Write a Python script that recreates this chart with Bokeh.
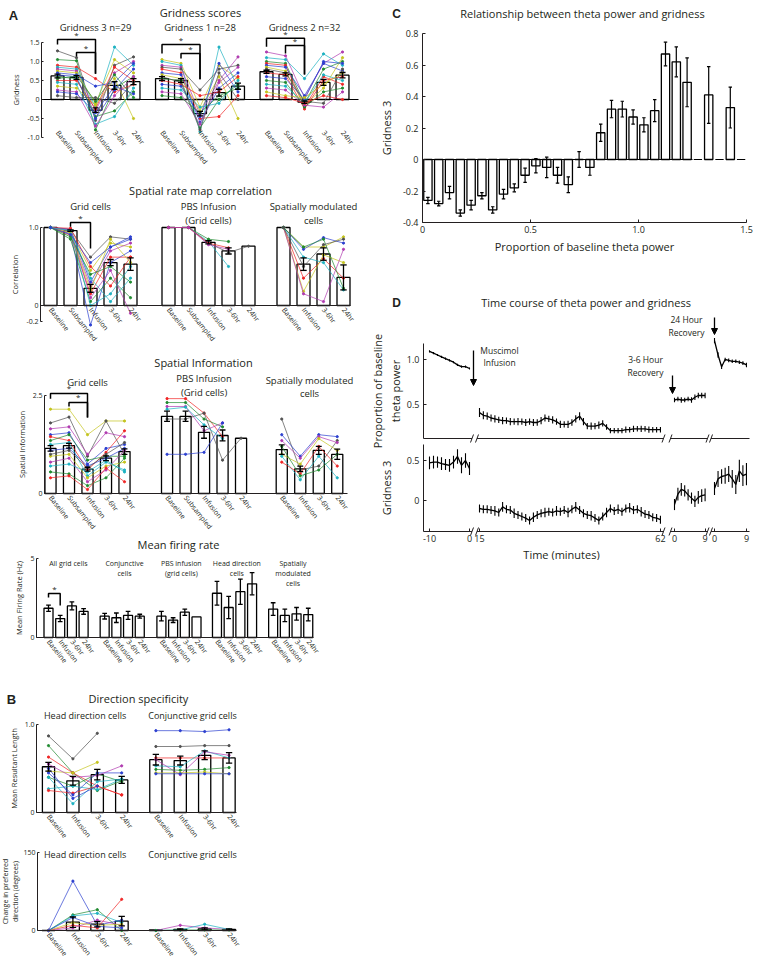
from bokeh.plotting import figure
from bokeh.models import LinearAxis, FixedTicker, Range1d, Arrow, NormalHead, Spacer
from bokeh.layouts import column, row
from bokeh.embed import file_html
from bokeh.resources import INLINE
from bokeh.core.properties import value

NAN = float("nan")

# ============================ DATA ============================
# ---- A: Gridness scores ----
grid_cats = ["Baseline", "Subsampled", "Infusion", "3-6hr", "24hr"]
grid_titles = ["Gridness 3 n=29", "Gridness 1 n=28", "Gridness 2 n=32"]
g3_mean = [0.62, 0.58, -0.28, 0.37, 0.47]
g3_err = [0.05, 0.05, 0.06, 0.10, 0.08]
g1_mean = [0.55, 0.50, -0.37, 0.18, 0.35]
g1_err = [0.05, 0.05, 0.06, 0.09, 0.08]
g2_mean = [0.73, 0.66, -0.07, 0.45, 0.64]
g2_err = [0.04, 0.04, 0.03, 0.08, 0.07]
g3_cells = [
    [1.28, 1.10, -0.55, 0.90, 1.12], [1.05, 1.02, -0.80, 0.30, 0.60],
    [0.90, 0.85, 0.55, 0.20, 0.40], [0.85, 0.80, -0.20, 1.38, 0.90],
    [0.80, 0.75, -0.30, 0.70, 1.00], [0.75, 0.70, -0.10, 1.05, 0.70],
    [0.70, 0.65, 0.35, 0.45, 0.95], [0.60, 0.55, -0.45, -0.30, 0.20],
    [0.50, 0.50, -0.25, 0.85, 0.50], [0.45, 0.40, -0.65, -0.45, 0.30],
    [0.35, 0.30, -0.15, 0.55, -0.50], [0.25, 0.20, -0.70, 0.10, 0.60],
    [0.20, 0.15, -0.35, 0.35, 0.15], [0.10, 0.05, 0.05, -0.10, 0.45],
    [0.65, 0.60, -0.50, 0.25, 0.80], [0.55, 0.62, -0.05, 0.65, 0.05],
]
g3_colors = ["k", "g", "r", "c", "m", "y", "b", "g", "r", "c", "y", "m", "b", "k", "b", "g"]
g1_cells = [
    [1.05, 0.95, -0.20, 0.90, 0.55], [1.00, 0.90, -0.85, 1.38, 0.30],
    [0.90, 0.85, -0.40, 0.50, 1.12], [0.85, 0.80, 0.25, 0.80, 0.90],
    [0.80, 0.70, -0.50, -0.45, 0.10], [0.70, 0.65, -0.60, 0.30, 0.70],
    [0.65, 0.55, -0.30, 0.60, -0.50], [0.55, 0.50, -0.75, 0.00, 0.40],
    [0.50, 0.40, 0.10, 0.20, 0.60], [0.40, 0.35, -0.45, 0.95, 0.20],
    [0.30, 0.25, -0.20, -0.10, 0.50], [0.20, 0.15, -0.65, 0.45, 0.85],
    [0.10, 0.05, -0.35, 0.10, 0.30], [0.60, 0.45, -0.80, 0.70, 0.00],
]
g1_colors = ["y", "c", "m", "k", "r", "b", "y", "g", "r", "b", "c", "m", "g", "k"]
g2_cells = [
    [1.25, 1.15, 0.05, 0.95, 1.25], [1.10, 1.05, 0.55, 1.20, 0.90],
    [1.00, 0.95, -0.10, 0.80, 1.00], [0.95, 0.90, -0.20, 0.60, 0.40],
    [0.90, 0.85, 0.10, 0.95, 0.75], [0.85, 0.75, -0.15, 0.30, 1.10],
    [0.80, 0.70, -0.05, -0.10, 0.80], [0.70, 0.65, -0.25, 0.50, 0.60],
    [0.60, 0.55, 0.00, 1.00, 0.95], [0.50, 0.45, -0.20, 0.20, 0.30],
    [0.40, 0.35, -0.10, 0.65, 0.50], [0.30, 0.25, -0.15, -0.20, 0.20],
    [0.20, 0.10, 0.05, 0.40, 0.70], [0.10, 0.05, -0.10, 0.10, 0.00],
]
g2_colors = ["m", "c", "g", "r", "b", "y", "k", "r", "b", "g", "c", "m", "y", "r"]
# significance brackets: (from, to, top, left end, right end)
g3_sig = [(0, 2, 1.58, 1.45, 0.68), (1, 2, 1.24, 1.13, 0.68)]
g1_sig = [(0, 2, 1.45, 1.21, 0.53), (1, 2, 1.21, 1.08, 0.53)]
g2_sig = [(0, 2, 1.61, 1.39, 0.66), (1, 2, 1.42, 1.21, 0.66)]

# ---- Spatial rate map correlation ----
sm_cats = ["Baseline", "Infusion", "3-6hr", "24hr"]
cor_titles = [["Grid cells"], ["PBS Infusion", "(Grid cells)"], ["Spatially modulated", "cells"]]
cor_grid_mean = [1.0, 0.96, 0.22, 0.55, 0.53]
cor_grid_err = [0.0, 0.01, 0.05, 0.04, 0.08]
cor_pbs_mean = [1.0, 1.0, 0.81, 0.70, 0.76]
cor_pbs_err = [0.0, 0.0, 0.02, 0.04, 0.0]
cor_sm_mean = [1.0, 0.53, 0.66, 0.36]
cor_sm_err = [0.0, 0.08, 0.08, 0.16]
cor_grid_cells = [
    [1.0, 0.97, 0.62, 0.88, 0.85], [1.0, 0.95, 0.45, 0.80, 0.75],
    [1.0, 0.98, 0.30, 0.75, 0.88], [1.0, 0.92, -0.25, 0.55, 0.70],
    [1.0, 0.90, 0.15, 0.62, 0.62], [1.0, 0.85, 0.05, 0.35, 0.10],
    [1.0, 0.96, 0.35, 0.05, 0.35], [1.0, 0.94, 0.25, 0.70, 0.80],
    [1.0, 0.97, 0.10, 0.45, -0.10], [1.0, 0.99, 0.50, 0.25, 0.62],
    [1.0, 0.93, 0.20, 0.85, 0.55], [1.0, 0.88, 0.40, 0.50, 0.30],
    [1.0, 0.96, 0.00, 0.15, 0.50], [1.0, 0.91, 0.55, 0.75, 0.85],
]
cor_grid_colors = ["k", "y", "b", "b", "r", "g", "c", "m", "m", "r", "y", "g", "c", "b"]
cor_pbs_cells = [
    [1.0, 1.0, 0.80, 0.68, 0.76], [1.0, 1.0, 0.85, 0.82, NAN],
    [1.0, 1.0, 0.82, 0.50, NAN], [1.0, 1.0, 0.80, 0.74, NAN],
    [1.0, 1.0, 0.78, 0.72, NAN],
]
cor_pbs_colors = ["k", "g", "c", "r", "m"]
cor_sm_cells = [
    [1.0, 0.75, 0.75, 0.88], [1.0, 0.72, 0.87, 0.80], [1.0, 0.35, 0.60, 0.35],
    [1.0, 0.18, 0.65, 0.55], [1.0, 0.15, 0.05, 0.72], [1.0, 0.62, 0.55, 0.20],
    [1.0, 0.75, 0.85, 0.22], [1.0, 0.50, 0.78, 0.85],
]
cor_sm_colors = ["y", "b", "r", "y", "m", "c", "g", "k"]
cor_sig = [(1, 2, 1.064, 1.01, 0.73)]

# ---- Spatial information ----
si_grid_mean = [1.15, 1.22, 0.62, 0.90, 1.07]
si_grid_err = [0.07, 0.06, 0.05, 0.06, 0.07]
si_pbs_mean = [1.97, 1.97, 1.56, 1.48, 1.41]
si_pbs_err = [0.13, 0.13, 0.15, 0.14, 0.0]
si_sm_mean = [1.12, 0.63, 1.10, 1.00]
si_sm_err = [0.12, 0.07, 0.10, 0.13]
si_grid_cells = [
    [2.15, 2.15, 1.50, 1.85, 1.85], [1.80, 1.95, 0.95, 1.85, 1.00],
    [1.65, 1.70, 1.00, 1.55, 1.45], [1.50, 1.55, 0.75, 1.15, 1.25],
    [1.45, 1.35, 0.60, 1.05, 1.60], [1.35, 1.50, 0.85, 0.95, 0.95],
    [1.25, 1.30, 0.45, 0.80, 0.60], [1.10, 1.15, 0.70, 0.90, 1.15],
    [0.95, 1.00, 0.40, 0.70, 0.80], [0.80, 0.90, 0.30, 0.60, 1.10],
    [0.70, 0.75, 0.55, 0.85, 0.55], [0.55, 0.50, 0.20, 0.40, 0.90],
    [0.40, 0.45, 0.10, 0.65, 0.30], [1.00, 1.10, 0.65, 1.00, 1.30],
]
si_grid_colors = ["y", "k", "m", "b", "r", "g", "c", "b", "y", "m", "c", "g", "r", "k"]
si_pbs_cells = [
    [2.42, 2.42, 2.05, 1.45, NAN], [2.32, 2.32, 1.90, 1.70, NAN],
    [2.22, 2.22, 1.60, 1.80, NAN], [1.90, 1.90, 2.05, 0.85, 1.41],
    [1.00, 1.00, 1.05, 1.80, NAN], [2.15, 2.20, 1.75, 1.40, NAN],
]
si_pbs_colors = ["r", "g", "m", "k", "b", "c"]
si_sm_cells = [
    [1.90, 0.60, 0.70, 1.35], [1.50, 0.95, 1.50, 1.45], [1.35, 0.90, 1.45, 1.30],
    [1.00, 0.75, 1.40, 1.10], [0.95, 0.35, 0.95, 0.40], [0.80, 0.50, 1.20, 0.70],
    [1.20, 0.45, 0.60, 1.00],
]
si_sm_colors = ["k", "b", "m", "y", "c", "r", "g"]
si_sig = [(0, 2, 2.55, 2.42, 1.94), (1, 2, 2.32, 2.22, 1.94)]

# ---- Mean firing rate ----
fr_titles = [["All grid cells"], ["Conjunctive", "cells"], ["PBS infusion", "(grid cells)"],
             ["Head direction", "cells"], ["Spatially", "modulated", "cells"]]
fr_grid_mean = [1.85, 1.20, 2.00, 1.65]
fr_grid_err = [0.20, 0.20, 0.25, 0.18]
fr_conj_mean = [1.35, 1.25, 1.40, 1.35]
fr_conj_err = [0.18, 0.30, 0.25, 0.12]
fr_pbs_mean = [1.35, 1.10, 1.60, 1.30]
fr_pbs_err = [0.30, 0.15, 0.20, 0.0]
fr_hd_mean = [2.80, 1.90, 2.90, 3.40]
fr_hd_err = [0.75, 0.70, 0.80, 0.70]
fr_sm_mean = [1.80, 1.40, 1.50, 1.45]
fr_sm_err = [0.40, 0.40, 0.40, 0.40]
fr_sig = [(0, 1, 2.78, 2.53, 2.03)]

# ---- B: Direction specificity ----
ds_titles = ["Head direction cells", "Conjunctive grid cells"]
ds_hd_mean = [0.52, 0.36, 0.43, 0.37]
ds_hd_err = [0.05, 0.05, 0.06, 0.04]
ds_cj_mean = [0.60, 0.59, 0.65, 0.62]
ds_cj_err = [0.06, 0.05, 0.05, 0.06]
ds_hd_cells = [
    [0.87, 0.61, 0.90, NAN], [0.76, 0.45, 0.25, 0.36], [0.63, 0.45, 0.30, 0.20],
    [0.47, 0.45, 0.57, NAN], [0.40, 0.30, 0.44, 0.35], [0.40, 0.10, 0.35, 0.38],
    [0.27, 0.30, 0.26, 0.38], [0.25, 0.22, 0.30, 0.20], [0.45, 0.20, 0.45, 0.45],
    [0.55, 0.40, 0.42, 0.53], [0.50, 0.16, 0.30, NAN],
]
ds_hd_colors = ["k", "g", "r", "y", "g", "c", "c", "r", "b", "m", "b"]
ds_cj_cells = [
    [0.93, 0.93, 0.92, 0.94], [0.75, 0.75, 0.76, 0.76], [0.62, 0.62, 0.62, 0.62],
    [0.53, 0.52, 0.70, 0.62], [0.60, 0.43, 0.69, 0.65], [0.49, 0.48, 0.49, 0.51],
    [0.45, 0.45, 0.46, 0.44], [0.44, 0.44, 0.44, 0.44],
]
ds_cj_colors = ["b", "k", "r", "c", "m", "g", "y", "b"]
cp_hd_mean = [0.0, 16.0, 12.0, 18.0]
cp_hd_err = [0.0, 10.0, 5.0, 9.0]
cp_cj_mean = [1.0, 2.0, 3.0, 2.0]
cp_cj_err = [0.0, 1.0, 2.0, 1.0]
cp_hd_cells = [
    [0, 95, 10, 20], [0, 30, 40, 0], [0, 28, 33, 15], [0, 10, 5, 60],
    [0, 5, 20, 10], [0, 15, 10, 12], [0, 25, 8, 5],
]
cp_hd_colors = ["b", "g", "c", "r", "m", "y", "b"]
cp_cj_cells = [[0, 10, 5, 2], [0, 1, 12, 2], [0, 1, 1, 1]]
cp_cj_colors = ["m", "c", "g"]

# ---- C: theta power vs gridness ----
c_x = [0.025, 0.075, 0.125, 0.175, 0.225, 0.275, 0.325, 0.375, 0.425, 0.475,
       0.525, 0.575, 0.625, 0.675, 0.725, 0.775, 0.825, 0.875, 0.925, 0.975,
       1.025, 1.075, 1.125, 1.175, 1.225, 1.275, 1.325, 1.375, 1.425, 1.475]
c_mean = [-0.26, -0.28, -0.21, -0.34, -0.29, -0.23, -0.32, -0.22, -0.18, -0.10,
          -0.04, -0.05, -0.10, -0.16, 0.00, -0.05, 0.17, 0.32, 0.32, 0.27,
          0.22, 0.31, 0.67, 0.62, 0.49, NAN, 0.41, NAN, 0.33, NAN]
c_err = [0.02, 0.015, 0.04, 0.02, 0.03, 0.02, 0.02, 0.03, 0.025, 0.045,
         0.045, 0.065, 0.05, 0.05, 0.05, 0.05, 0.055, 0.055, 0.05, 0.045,
         0.045, 0.07, 0.075, 0.095, 0.155, NAN, 0.18, NAN, 0.13, NAN]

# ---- D: time course ----
t_base = [-10, -9, -8, -7, -6, -5, -4, -3, -2, -1, 0]
t_inf = list(range(15, 63))
t_rec3 = [0, 1, 2, 3, 4, 5, 6, 7, 8, 9]
t_rec24 = [0, 1, 2, 3, 4, 5, 6, 7, 8, 9]
theta_base = [1.09, 1.07, 1.05, 1.03, 1.01, 0.99, 0.97, 0.94, 0.92, 0.92, 0.90]
theta_base_err = [0.012, 0.012, 0.011, 0.012, 0.013, 0.012, 0.011, 0.012, 0.012, 0.013, 0.012]
theta_inf = [0.41, 0.38, 0.37, 0.35, 0.34, 0.33, 0.32, 0.32, 0.31, 0.31, 0.31, 0.31,
             0.30, 0.31, 0.30, 0.30, 0.32, 0.35, 0.34, 0.33, 0.31, 0.28, 0.28, 0.28,
             0.30, 0.34, 0.37, 0.31, 0.26, 0.26, 0.26, 0.27, 0.29, 0.25, 0.21, 0.21,
             0.21, 0.21, 0.22, 0.22, 0.23, 0.23, 0.23, 0.23, 0.22, 0.22, 0.22, 0.22]
theta_inf_err = [0.05, 0.045, 0.04, 0.04, 0.04, 0.035, 0.04, 0.035, 0.04, 0.035, 0.04, 0.035,
                 0.04, 0.035, 0.04, 0.035, 0.04, 0.04, 0.035, 0.04, 0.035, 0.04, 0.035, 0.04,
                 0.035, 0.04, 0.045, 0.04, 0.035, 0.04, 0.035, 0.04, 0.035, 0.03, 0.03, 0.03,
                 0.03, 0.03, 0.035, 0.03, 0.035, 0.03, 0.035, 0.03, 0.035, 0.03, 0.03, 0.03]
theta_rec3 = [0.55, 0.56, 0.55, 0.55, 0.56, 0.55, 0.58, 0.60, 0.60, 0.60]
theta_rec3_err = [0.025, 0.025, 0.03, 0.025, 0.025, 0.03, 0.03, 0.03, 0.03, 0.03]
theta_rec24 = [1.21, 1.05, 0.92, 1.00, 0.99, 0.98, 0.98, 0.97, 0.96, 0.94]
theta_rec24_err = [0.03, 0.03, 0.025, 0.02, 0.02, 0.02, 0.02, 0.02, 0.02, 0.025]
grid_base = [0.47, 0.48, 0.48, 0.46, 0.45, 0.44, 0.48, 0.55, 0.44, 0.50, 0.40]
grid_base_err = [0.08, 0.08, 0.07, 0.08, 0.07, 0.08, 0.08, 0.09, 0.10, 0.09, 0.08]
grid_inf = [-0.10, -0.11, -0.11, -0.12, -0.13, -0.15, -0.08, -0.11, -0.12, -0.16, -0.18, -0.20,
            -0.22, -0.25, -0.21, -0.18, -0.16, -0.15, -0.14, -0.15, -0.13, -0.14, -0.12, -0.15,
            -0.11, -0.08, -0.12, -0.16, -0.18, -0.19, -0.22, -0.25, -0.20, -0.15, -0.10, -0.13,
            -0.11, -0.14, -0.10, -0.09, -0.12, -0.11, -0.14, -0.17, -0.18, -0.21, -0.22, -0.24]
grid_inf_err = [0.05, 0.05, 0.05, 0.05, 0.06, 0.05, 0.06, 0.05, 0.05, 0.06, 0.05, 0.05,
                0.05, 0.05, 0.06, 0.05, 0.05, 0.06, 0.05, 0.05, 0.06, 0.05, 0.05, 0.06,
                0.05, 0.06, 0.05, 0.05, 0.05, 0.06, 0.05, 0.05, 0.05, 0.06, 0.05, 0.05,
                0.06, 0.05, 0.05, 0.06, 0.05, 0.05, 0.06, 0.05, 0.05, 0.05, 0.05, 0.05]
grid_rec3 = [-0.05, 0.08, 0.14, 0.12, 0.07, 0.03, -0.01, 0.04, 0.06, 0.07]
grid_rec3_err = [0.07, 0.08, 0.08, 0.07, 0.07, 0.07, 0.07, 0.08, 0.08, 0.08]
grid_rec24 = [0.15, 0.27, 0.30, 0.31, 0.33, 0.27, 0.20, 0.37, 0.31, 0.33]
grid_rec24_err = [0.08, 0.10, 0.09, 0.10, 0.10, 0.11, 0.12, 0.14, 0.13, 0.14]
d_tick_labels = ["-10", "0", "15", "62", "0", "9", "0", "9"]

# ============================ STYLE / LAYOUT ============================
FONT = "Open Sans"
BOLD = "Liberation Sans"
TXT = "#231f20"
COLS = {"b": "#2b3fd0", "g": "#1f8a2f", "r": "#f02424", "c": "#1cb2c2",
        "m": "#b03ab0", "y": "#c4c41c", "k": "#505050"}
LW_BAR = 1.3
CAT_ANGLE = -0.9
SPLIT = 366          # x where the right column starts
LW_LEFT = SPLIT
LW_RIGHT = 756 - SPLIT


def mkpanel(fx, fy, w, h, xpx0, xs, ypx0, ys):
    X = lambda px: (px - xpx0) / xs
    Y = lambda py: (ypx0 - py) / ys
    p = figure(width=w, height=h, x_range=Range1d(X(fx), X(fx + w)),
               y_range=Range1d(Y(fy + h), Y(fy)), x_axis_type=None, y_axis_type=None,
               toolbar_location=None, output_backend="svg", min_border=0,
               min_border_left=0, min_border_right=0, min_border_top=0, min_border_bottom=0,
               outline_line_color=None, border_fill_color="white",
               background_fill_color="white")
    return p, X, Y


def txt(p, x, y, s, size, align="center", baseline="middle", bold=False, font=FONT, angle=0):
    p.text(x=[x], y=[y], text=[s], text_font=value(font), text_font_size=size,
           text_align=align, text_baseline=baseline, angle=angle,
           text_font_style="bold" if bold else "normal", text_color=TXT)


def lines_txt(p, x, ys, texts, size):
    for y, s in zip(ys, texts):
        txt(p, x, y, s, size)


def yaxis(p, loc, ticks, labels, bounds, label, fs="7px", lfs="7.5px", standoff=2, lstand=3,
          tick_in=2, **kw):
    ax = LinearAxis(fixed_location=loc, bounds=bounds, ticker=FixedTicker(ticks=ticks),
                    major_label_overrides={float(t): l for t, l in zip(ticks, labels)},
                    axis_label=label, axis_label_text_font=FONT, axis_label_text_font_size=lfs,
                    axis_label_text_font_style="normal", axis_label_standoff=lstand,
                    axis_label_text_color=TXT,
                    major_label_text_font=FONT, major_label_text_font_size=fs,
                    major_label_text_color=TXT, major_label_standoff=standoff,
                    major_tick_in=tick_in, major_tick_out=0, minor_tick_in=0, minor_tick_out=0,
                    axis_line_color=TXT, major_tick_line_color=TXT, axis_line_width=1, **kw)
    p.add_layout(ax, "left")
    return ax


def cataxis(p, ticks, labels, loc, bounds=None, line=True, fs="7px", standoff=2):
    ax = LinearAxis(fixed_location=loc, ticker=FixedTicker(ticks=ticks),
                    major_label_overrides={float(t): l for t, l in zip(ticks, labels)},
                    major_label_orientation=CAT_ANGLE, major_tick_in=0, major_tick_out=0,
                    minor_tick_in=0, minor_tick_out=0, major_label_standoff=standoff,
                    major_label_text_font=FONT, major_label_text_font_size=fs,
                    major_label_text_color=TXT,
                    axis_line_color=TXT if line else None, axis_line_width=1)
    if bounds is not None:
        ax.bounds = bounds
    p.add_layout(ax, "below")
    return ax


def bars(p, xs, means, bw):
    p.vbar(x=xs, top=means, bottom=0, width=bw, fill_color="white",
           line_color="black", line_width=LW_BAR)


def errbars(p, xs, means, errs, cap, lw=1.3):
    ex = [x for x, e in zip(xs, errs) if e == e and e > 0]
    lo = [m - e for m, e in zip(means, errs) if e == e and e > 0]
    hi = [m + e for m, e in zip(means, errs) if e == e and e > 0]
    p.segment(x0=ex, y0=lo, x1=ex, y1=hi, line_color="black", line_width=lw)
    p.segment(x0=[x - cap for x in ex], y0=hi, x1=[x + cap for x in ex], y1=hi,
              line_color="black", line_width=lw)
    p.segment(x0=[x - cap for x in ex], y0=lo, x1=[x + cap for x in ex], y1=lo,
              line_color="black", line_width=lw)


def cells(p, xs, rows, colors, size=2.2):
    for ys, c in zip(rows, colors):
        col = COLS[c]
        p.line(xs, ys, line_color=col, line_width=0.7)
        p.scatter(xs, ys, size=size, color=col, marker="circle")


def bracket(p, xs, sig, star_dy):
    for a, b, yh, yl, yr in sig:
        p.line([xs[a], xs[a], xs[b], xs[b]], [yl, yh, yh, yr], line_color="black", line_width=1.5)
        txt(p, (xs[a] + xs[b]) / 2, yh + star_dy, "*", "8px", baseline="middle")


# ---------------- Panel A1: Gridness ----------------
p1, X1, Y1 = mkpanel(0, 0, LW_LEFT, 168, 57, 19, 99, 38)
GR_OFF = [0, 5.5, 11]
p1.line([X1(41), X1(358)], [0, 0], line_color="black", line_width=1)
all_x, all_l = [], []
for off, mean, err, cl, cc, sig, title in zip(
        GR_OFF, [g3_mean, g1_mean, g2_mean], [g3_err, g1_err, g2_err],
        [g3_cells, g1_cells, g2_cells], [g3_colors, g1_colors, g2_colors],
        [g3_sig, g1_sig, g2_sig], grid_titles):
    xs = [off + i for i in range(len(grid_cats))]
    bars(p1, xs, mean, 0.68)
    cells(p1, xs, cl, cc)
    errbars(p1, xs, mean, err, 0.16)
    bracket(p1, xs, sig, 0.12)
    txt(p1, off + 2, Y1(27), title, "9.5px")
    all_x += xs
    all_l += grid_cats
txt(p1, X1(200), Y1(12), "Gridness scores", "11px")
txt(p1, X1(13), Y1(15), "A", "13px", bold=True, font=BOLD)
yaxis(p1, X1(41), [-1, -0.5, 0, 0.5, 1, 1.5], ["-1.0", "-0.5", "0", "0.5", "1.0", "1.5"],
      (-1, 1.5), "Gridness")
cataxis(p1, all_x, all_l, Y1(130), line=False, standoff=1)

# ---------------- Panel A2: Correlation ----------------
p2, X2, Y2 = mkpanel(0, 168, LW_LEFT, 182, 50, 20, 305, 78)
CO_OFF = [0, 5.9, 11.65]
all_x, all_l = [], []
groups = [(grid_cats, cor_grid_mean, cor_grid_err, cor_grid_cells, cor_grid_colors),
          (grid_cats, cor_pbs_mean, cor_pbs_err, cor_pbs_cells, cor_pbs_colors),
          (sm_cats, cor_sm_mean, cor_sm_err, cor_sm_cells, cor_sm_colors)]
for gi, (off, (cats, mean, err, cl, cc), title) in enumerate(zip(CO_OFF, groups, cor_titles)):
    xs = [off + i for i in range(len(cats))]
    bars(p2, xs, mean, 0.65)
    cells(p2, xs, cl, cc)
    errbars(p2, xs, mean, err, 0.16)
    if gi == 0:
        bracket(p2, xs, cor_sig, 0.07)
    lines_txt(p2, off + (len(cats) - 1) / 2, [Y2(206), Y2(220)], title, "9.5px")
    all_x += xs
    all_l += cats
txt(p2, X2(200), Y2(190), "Spatial rate map correlation", "11px")
yaxis(p2, X2(40), [-0.2, 0, 1.0], ["-0.2", "0", "1.0"], (-0.2, 1.0), "Correlation")
cataxis(p2, all_x, all_l, 0, bounds=(X2(40), X2(350)), standoff=3)

# ---------------- Panel A3: Spatial information ----------------
p3, X3, Y3 = mkpanel(0, 350, LW_LEFT, 184, 50, 18.5, 493, 39.2)
SI_OFF = [0, 6.3, 12.5]
all_x, all_l = [], []
groups = [(grid_cats, si_grid_mean, si_grid_err, si_grid_cells, si_grid_colors),
          (grid_cats, si_pbs_mean, si_pbs_err, si_pbs_cells, si_pbs_colors),
          (sm_cats, si_sm_mean, si_sm_err, si_sm_cells, si_sm_colors)]
sub_y = [[Y3(382)], [Y3(378), Y3(392)], [Y3(380), Y3(393)]]
for gi, (off, (cats, mean, err, cl, cc), title, sy) in enumerate(zip(SI_OFF, groups, cor_titles, sub_y)):
    xs = [off + i for i in range(len(cats))]
    bars(p3, xs, mean, 0.6)
    cells(p3, xs, cl, cc)
    errbars(p3, xs, mean, err, 0.16)
    if gi == 0:
        bracket(p3, xs, si_sig, 0.15)
    lines_txt(p3, off + (len(cats) - 1) / 2, sy, title, "9.5px")
    all_x += xs
    all_l += cats
txt(p3, X3(203), Y3(362), "Spatial Information", "11px")
yaxis(p3, X3(44), [0, 2.5], ["0", "2.5"], (0, 2.5), "Spatial Information")
cataxis(p3, all_x, all_l, 0, bounds=(X3(44), X3(347)), standoff=3)

# ---------------- Panel A4: Mean firing rate ----------------
p4, X4, Y4 = mkpanel(0, 534, LW_LEFT, 146, 48, 11.7, 637, 15.8)
FR_OFF = [0, 4.8, 9.65, 14.4, 19.2]
all_x, all_l = [], []
fr_means = [fr_grid_mean, fr_conj_mean, fr_pbs_mean, fr_hd_mean, fr_sm_mean]
fr_errs = [fr_grid_err, fr_conj_err, fr_pbs_err, fr_hd_err, fr_sm_err]
for gi, (off, mean, err, title) in enumerate(zip(FR_OFF, fr_means, fr_errs, fr_titles)):
    xs = [off + i for i in range(len(sm_cats))]
    bars(p4, xs, mean, 0.77)
    errbars(p4, xs, mean, err, 0.2)
    if gi == 0:
        bracket(p4, xs, fr_sig, 0.35)
    lines_txt(p4, off + 1.7, [Y4(563), Y4(573), Y4(583)][:len(title)], title, "7px")
    all_x += xs
    all_l += sm_cats
txt(p4, X4(178), Y4(544), "Mean firing rate", "11px")
yaxis(p4, X4(36), [0, 5], ["0", "5"], (0, 5), "Mean Firing Rate (Hz)")
cataxis(p4, all_x, all_l, 0, bounds=(X4(36), X4(313)), standoff=3)

# ---------------- Panel B1: Direction specificity ----------------
p5, X5, Y5 = mkpanel(0, 680, LW_LEFT, 163, 48, 24.4, 812, 88)
DS_OFF = [0, 4.4]
all_x, all_l = [], []
for off, mean, err, cl, cc, title in zip(DS_OFF, [ds_hd_mean, ds_cj_mean], [ds_hd_err, ds_cj_err],
                                         [ds_hd_cells, ds_cj_cells], [ds_hd_colors, ds_cj_colors],
                                         ds_titles):
    xs = [off + i for i in range(len(sm_cats))]
    bars(p5, xs, mean, 0.5)
    cells(p5, xs, cl, cc)
    errbars(p5, xs, mean, err, 0.13)
    txt(p5, off + 1.5, Y5(715), title, "9px")
    all_x += xs
    all_l += sm_cats
txt(p5, X5(138), Y5(698), "Direction specificity", "11px")
txt(p5, X5(11), Y5(699), "B", "13px", bold=True, font=BOLD)
yaxis(p5, X5(36), [0, 1], ["0", "1.0"], (0, 1), "Mean Resultant Length")
cataxis(p5, all_x, all_l, 0, bounds=(X5(36), X5(236)), standoff=3)

# ---------------- Panel B2: Change in preferred direction ----------------
p6, X6, Y6 = mkpanel(0, 843, LW_LEFT, 120, 48, 24.4, 930, 0.52)
all_x, all_l = [], []
for off, mean, err, cl, cc, title in zip(DS_OFF, [cp_hd_mean, cp_cj_mean], [cp_hd_err, cp_cj_err],
                                         [cp_hd_cells, cp_cj_cells], [cp_hd_colors, cp_cj_colors],
                                         ds_titles):
    xs = [off + i for i in range(len(sm_cats))]
    bars(p6, xs, mean, 0.53)
    cells(p6, xs, cl, cc)
    errbars(p6, xs, mean, err, 0.13)
    txt(p6, off + 1.5, Y6(854), title, "9px")
    all_x += xs
    all_l += sm_cats
yaxis(p6, X6(37), [0, 150], ["0", "150"], (0, 150), "Change in preferred\ndirection (degrees)",
      lfs="7px", standoff=2, lstand=0)
cataxis(p6, all_x, all_l, 0, bounds=(X6(37), X6(236)), standoff=3)

# ---------------- Panel C ----------------
pc, XC, YC = mkpanel(SPLIT, 0, LW_RIGHT, 290, 422, 216, 159, 157.5)
C_BW = 0.0385
pc.line([0, 1.25], [0, 0], line_color="black", line_width=1)
cx_ok = [x for x, m in zip(c_x, c_mean) if m == m]
cm_ok = [m for m in c_mean if m == m]
ce_ok = [e for e in c_err if e == e]
cx_nan = [x for x, m in zip(c_x, c_mean) if m != m]
pc.segment(x0=[x - C_BW / 2 for x in cx_nan], y0=[0] * len(cx_nan),
           x1=[x + C_BW / 2 for x in cx_nan], y1=[0] * len(cx_nan), line_color="black", line_width=1.2)
bars(pc, cx_ok, cm_ok, C_BW)
errbars(pc, cx_ok, cm_ok, ce_ok, 0.008, lw=1.2)
txt(pc, XC(582), YC(13), "Relationship between theta power and gridness", "11px")
txt(pc, XC(396), YC(13), "C", "12px", bold=True, font=BOLD)
yaxis(pc, 0, [-0.4, -0.2, 0, 0.2, 0.4, 0.6, 0.8], ["-0.4", "-0.2", "0", "0.2", "0.4", "0.6", "0.8"],
      (-0.4, 0.8), "Gridness 3", fs="9px", lfs="11px", standoff=4, lstand=6, tick_in=3)
xc_ax = LinearAxis(fixed_location=-0.4, bounds=(0, 1.5), ticker=FixedTicker(ticks=[0, 0.5, 1.0, 1.5]),
                   major_label_overrides={0.0: "0", 0.5: "0.5", 1.0: "1.0", 1.5: "1.5"},
                   axis_label="Proportion of baseline theta power", axis_label_text_font=FONT,
                   axis_label_text_font_size="11px", axis_label_text_font_style="normal",
                   axis_label_text_color=TXT, axis_label_standoff=3,
                   major_label_text_font=FONT, major_label_text_font_size="9px",
                   major_label_text_color=TXT, major_label_standoff=3,
                   major_tick_in=3, major_tick_out=0, minor_tick_in=0, minor_tick_out=0,
                   axis_line_color=TXT, major_tick_line_color=TXT)
pc.add_layout(xc_ax, "below")

# ---------------- Panel D (theta power on default range, gridness on "grid" range) ----------------
# broken time axis: (segment start time, u at start, px per minute)
D_SEG = [(-10, 0.0, 4.0), (15, 50.0, 3.85), (0, 245.0, 3.4), (0, 285.0, 3.55)]
D_AXSEG = [(-6, 42.5), (47.5, 234), (241, 278), (281.5, 320)]


def tmap(ts, seg):
    t0, u0, sc = D_SEG[seg]
    return [u0 + (t - t0) * sc for t in ts]


def series(p, u, ys, es, **kw):
    p.line(u, ys, line_color="black", line_width=1.3, **kw)
    p.segment(x0=u, y0=[y - e for y, e in zip(ys, es)], x1=u, y1=[y + e for y, e in zip(ys, es)],
              line_color="black", line_width=1.1, **kw)


def broken_axis(p, y0, dy, **kw):
    for a, b in D_AXSEG:
        p.line([a, b], [y0, y0], line_color=TXT, line_width=1, **kw)
    for a, b in D_AXSEG[1:]:
        p.line([a - 1.5, a + 1.5], [y0 - dy, y0 + dy], line_color=TXT, line_width=1, **kw)
    for a, b in D_AXSEG[:-1]:
        p.line([b - 1.5, b + 1.5], [y0 - dy, y0 + dy], line_color=TXT, line_width=1, **kw)


pd, XD, YD = mkpanel(SPLIT, 290, LW_RIGHT, 270, 429, 1, 449, 90)
YG = lambda py: (500 - py) / 80
pd.extra_y_ranges = {"grid": Range1d(YG(560), YG(290))}

theta_sets = [(t_base, theta_base, theta_base_err), (t_inf, theta_inf, theta_inf_err),
              (t_rec3, theta_rec3, theta_rec3_err), (t_rec24, theta_rec24, theta_rec24_err)]
for si, (ts, ys, es) in enumerate(theta_sets):
    series(pd, tmap(ts, si), ys, es)
broken_axis(pd, YD(438), 4 / 90)

grid_sets = [(t_base, grid_base, grid_base_err), (t_inf, grid_inf, grid_inf_err),
             (t_rec3, grid_rec3, grid_rec3_err), (t_rec24, grid_rec24, grid_rec24_err)]
for si, (ts, ys, es) in enumerate(grid_sets):
    series(pd, tmap(ts, si), ys, es, y_range_name="grid")
broken_axis(pd, YG(531), 4 / 80, y_range_name="grid")

head = dict(size=6, fill_color="black", line_color="black")
pd.add_layout(Arrow(end=NormalHead(**head), x_start=44, y_start=YD(350), x_end=44, y_end=YD(385),
                    line_width=1.3, line_color="black"))
pd.add_layout(Arrow(end=NormalHead(**head), x_start=243, y_start=YD(375), x_end=243, y_end=YD(393),
                    line_width=1.3, line_color="black"))
pd.add_layout(Arrow(end=NormalHead(**head), x_start=285, y_start=YD(317), x_end=285, y_end=YD(334),
                    line_width=1.3, line_color="black"))
lines_txt(pd, 70, [YD(350), YD(362)], ["Muscimol", "Infusion"], "8.5px")
lines_txt(pd, 216, [YD(359), YD(372)], ["3-6 Hour", "Recovery"], "8.5px")
lines_txt(pd, 257, [YD(319), YD(332)], ["24 Hour", "Recovery"], "8.5px")
txt(pd, XD(587), YD(302), "Time course  of theta power and gridness", "11px")
txt(pd, XD(396), YD(302), "D", "12px", bold=True, font=BOLD)
yaxis(pd, -6, [0.5, 1.0], ["0.5", "1.0"], (YD(438), YD(343)), "Proportion of baseline\ntheta power",
      fs="9px", lfs="11px", standoff=4, lstand=1, tick_in=3)
yaxis(pd, -6, [0, 0.5], ["0", "0.5"], (YG(531), YG(444)), "Gridness 3",
      fs="9px", lfs="11px", standoff=4, lstand=10, tick_in=3, y_range_name="grid")
d_ticks = tmap([-10, 0], 0) + tmap([15, 62], 1) + tmap([0, 9], 2) + tmap([0, 9], 3)
xd_ax = LinearAxis(fixed_location=YD(531), ticker=FixedTicker(ticks=d_ticks),
                   major_label_overrides={float(t): l for t, l in zip(d_ticks, d_tick_labels)},
                   axis_label="Time (minutes)", axis_label_text_font=FONT,
                   axis_label_text_font_size="11px", axis_label_text_font_style="normal",
                   axis_label_text_color=TXT, axis_label_standoff=2,
                   major_label_text_font=FONT, major_label_text_font_size="9px",
                   major_label_text_color=TXT, major_label_standoff=3,
                   major_tick_in=3, major_tick_out=0, minor_tick_in=0, minor_tick_out=0,
                   axis_line_color=None, major_tick_line_color=TXT)
pd.add_layout(xd_ax, "below")

left = column(p1, p2, p3, p4, p5, p6, spacing=0)
right = column(pc, pd, Spacer(width=LW_RIGHT, height=403), spacing=0)
layout = row(left, right, spacing=0)

open("out.html", "w").write(file_html(layout, INLINE))
